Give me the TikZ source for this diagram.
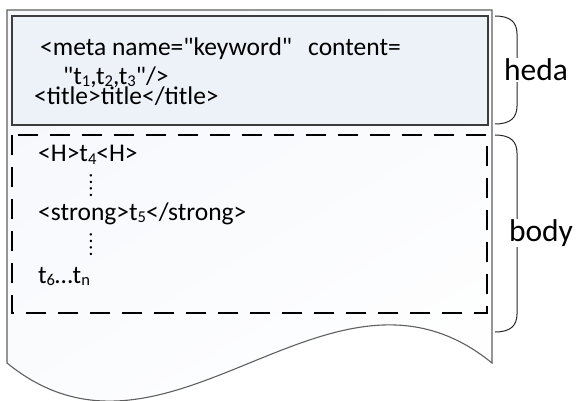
\documentclass[tikz,border=0pt]{standalone}
\usepackage{fontspec}
\setmainfont{Carlito}
\definecolor{headfill}{RGB}{237,241,248}
\definecolor{bodytint}{RGB}{246,248,252}
\definecolor{outerline}{RGB}{95,95,95}
\definecolor{boxline}{RGB}{60,60,60}
\newcommand{\qt}{\textquotedbl}
\newcommand{\sub}[1]{\raisebox{-2pt}{\fontsize{16.5}{17}\selectfont #1}}
\tikzset{
  code/.style={anchor=base west, inner sep=0pt, font=\fontsize{25.5}{27}\selectfont},
  vdots/.style={anchor=center, inner sep=0pt, align=center, font=\fontsize{20}{13}\selectfont},
  sidelabel/.style={anchor=center, inner sep=1pt, fill=white, font=\fontsize{31.5}{33}\selectfont},
  bracestroke/.style={draw=black!85, line width=1pt},
}
\begin{document}
\begin{tikzpicture}[x=1pt,y=-1pt]
\useasboundingbox (0,0) rectangle (576,401);
% page outline with wavy bottom edge
\coordinate (p1) at (7,10);
\coordinate (p2) at (492,10);
\coordinate (p3) at (492,363);
\coordinate (p4) at (7,363);
\shade[shading=axis, top color=bodytint, bottom color=white, shading angle=30]
  (p1) -- (p2) -- (p3) .. controls (330,231) and (169,495) .. (p4) -- cycle;
\draw[outerline, line width=1.1pt]
  (p1) -- (p2) -- (p3) .. controls (330,231) and (169,495) .. (p4) -- cycle;
% head section
\draw[boxline, line width=1.1pt, fill=headfill] (12,16) rectangle (488,125);
% body section
\draw[black, line width=1.1pt, dash pattern=on 20pt off 12pt] (12,135) rectangle (487,313);
% head text
\node[code] (meta) at (40,56) {<meta name=\qt keyword\qt};
\node[code] (content) at (308,56) {content=};
\node[code] (terms) at (63,85) {\qt t\sub{1},t\sub{2},t\sub{3}\qt/>};
\node[code] (title) at (34,105) {<title>title</title>};
% body text with stacked colons between lines
\node[code] (h) at (38,162) {<H>t\sub{4}<H>};
\node[vdots] (d1) at (91,185.5) {:\\:};
\node[code] (strong) at (38,220) {<strong>t\sub{5}</strong>};
\node[vdots] (d2) at (91,244.5) {:\\:};
\node[code] (tail) at (38,283) {t\sub{6}…t\sub{n}};
% braces
\draw[bracestroke] (495,16) .. controls (510,16) and (517,22) .. (517,34)
  -- (517,106) .. controls (517,118) and (510,124) .. (495,124);
\draw[bracestroke] (495,135) .. controls (510,135) and (517,141) .. (517,153)
  -- (517,314) .. controls (517,326) and (510,332) .. (495,332);
\node[sidelabel] (heda) at (536,70) {heda};
\node[sidelabel] (body) at (541,233) {body};
\end{tikzpicture}
\end{document}
